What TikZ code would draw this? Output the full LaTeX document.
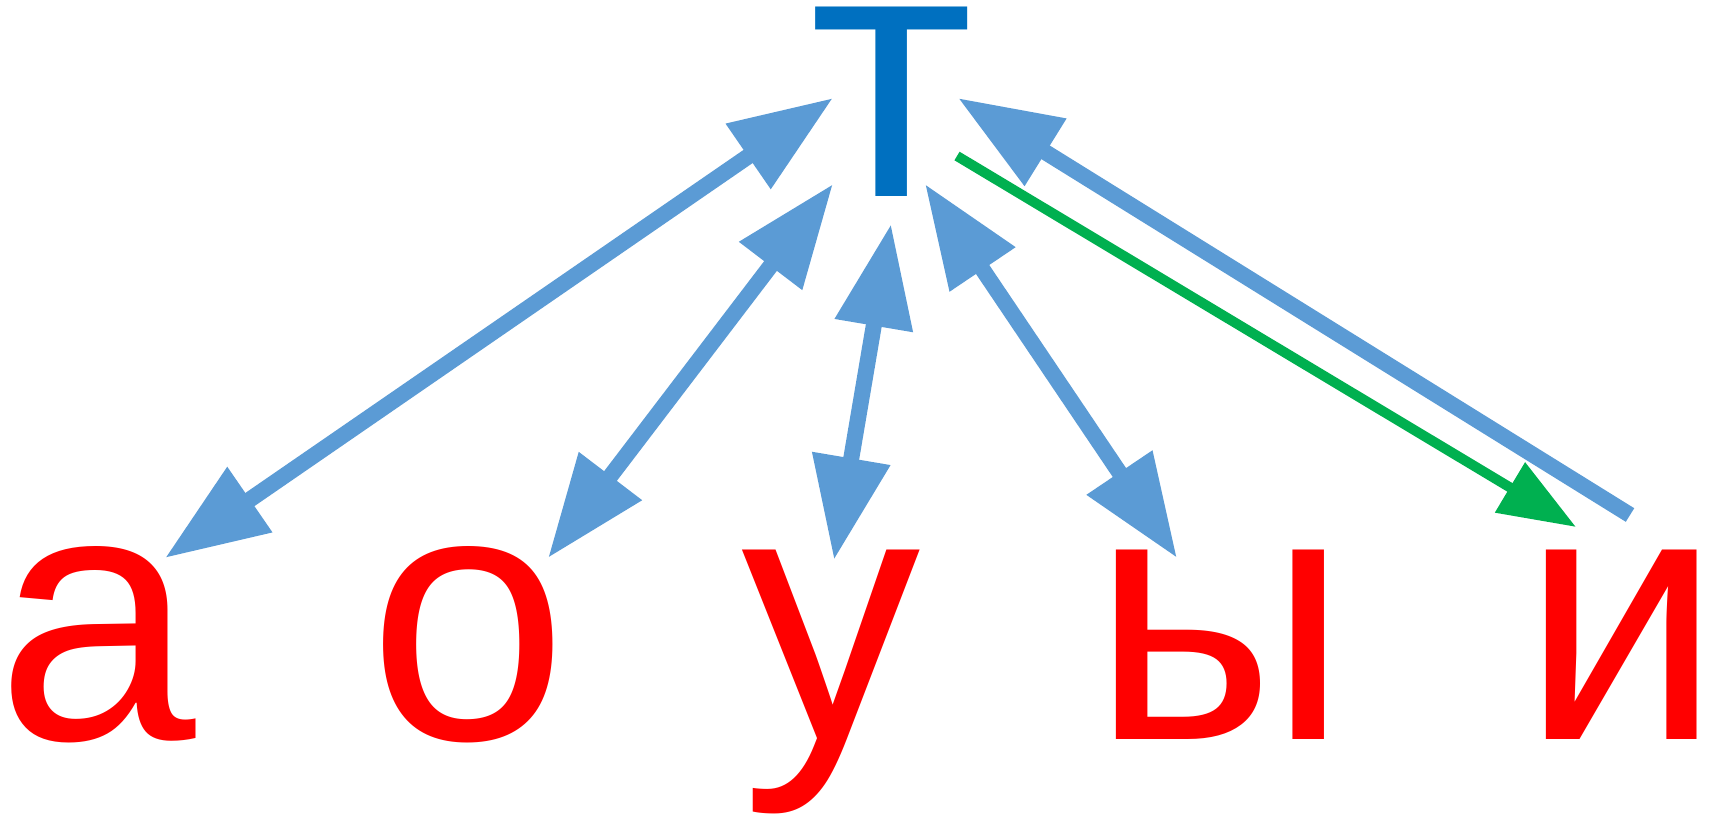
\documentclass[tikz,border=0pt]{standalone}
\usepackage{fontspec}
\setmainfont{Liberation Sans}
\usetikzlibrary{arrows.meta}
\definecolor{tblue}{HTML}{0070C0}
\definecolor{linkblue}{HTML}{5B9BD5}
\definecolor{linkgreen}{HTML}{00B050}
\begin{document}
\begin{tikzpicture}[x=0.01cm, y=-0.01cm,
    letter/.style={anchor=base, inner sep=0pt, text=red, font=\fontsize{102}{102}\selectfont},
    bluehead/.tip={Triangle[length=1.03cm, width=0.75cm]},
    link/.style={linkblue, line width=0.16cm, bluehead-bluehead},
    backlink/.style={linkblue, line width=0.16cm, -bluehead},
    greenlink/.style={linkgreen, line width=0.1cm, -{Triangle[length=0.77cm, width=0.56cm]}}]
    \useasboundingbox (0,0) rectangle (1710,821);

    % Letters
    \node[letter, text=tblue] (t) at (891.5,196) {т};
    \foreach \n/\x/\l in {a/96.5/а, o/468/о, u/831/у, y/1220/ы, i/1621.5/и}
        \node[letter] (\n) at (\x,739) {\l};

    % Arrow ends
    \coordinate (t-a) at (833,98);   \coordinate (a-t) at (165,558);
    \coordinate (t-o) at (833,184);  \coordinate (o-t) at (548,558);
    \coordinate (t-u) at (891,224);  \coordinate (u-t) at (834,560);
    \coordinate (t-y) at (925,184);  \coordinate (y-t) at (1177,558);
    \coordinate (t-i) at (958,98);   \coordinate (i-t) at (1630,515);
    \coordinate (t-g) at (957,156);  \coordinate (i-g) at (1576,527);

    % Links between the letters
    \foreach \s/\e in {t-a/a-t, t-o/o-t, t-u/u-t, t-y/y-t}
        \draw[link] (\s) -- (\e);
    \draw[backlink] (i-t) -- (t-i);
    \draw[greenlink] (t-g) -- (i-g);
\end{tikzpicture}
\end{document}
